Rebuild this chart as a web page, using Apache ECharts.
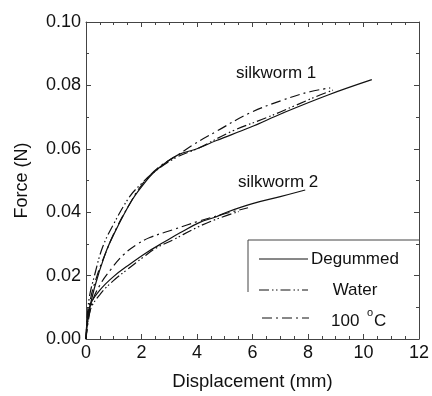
<!DOCTYPE html>
<html>
<head>
<meta charset="utf-8">
<script src="https://cdn.jsdelivr.net/npm/echarts@6/dist/echarts.min.js"></script>
<style>
  html, body { margin: 0; padding: 0; background: #fff; }
  #chart { width: 432px; height: 396px; }
</style>
</head>
<body>
<div id="chart"></div>
<script>
// silkworm 1
var degummed1X = [0, 0.1, 0.3, 0.7, 1.0, 1.6, 2.0, 2.5, 3.3, 4.0, 4.7, 5.9, 7.1, 8.7, 10.3];
var degummed1Y = [0, 0.008, 0.016, 0.027, 0.033, 0.043, 0.048, 0.053, 0.058, 0.060, 0.0626, 0.0667, 0.0713, 0.0769, 0.0818];
var water1X = [0, 0.1, 0.32, 0.6, 0.98, 1.58, 2.0, 2.5, 3.3, 4.0, 5.3, 6.5, 7.5, 8.3, 8.9];
var water1Y = [0, 0.012, 0.0205, 0.029, 0.036, 0.045, 0.049, 0.053, 0.0575, 0.060, 0.0657, 0.0698, 0.0735, 0.0765, 0.0785];
var hot1X = [0, 0.15, 0.4, 0.7, 1.1, 1.6, 2.0, 2.6, 3.3, 3.9, 4.7, 5.9, 7.1, 8.07, 8.8];
var hot1Y = [0, 0.012, 0.020, 0.027, 0.035, 0.043, 0.0485, 0.054, 0.058, 0.0615, 0.0655, 0.0713, 0.0754, 0.078, 0.0792];

// silkworm 2
var degummed2X = [0, 0.14, 0.5, 0.98, 1.58, 2.19, 2.8, 3.39, 4.1, 4.68, 5.07, 6.0, 7.0, 7.9];
var degummed2Y = [0, 0.0104, 0.0154, 0.0196, 0.0236, 0.0273, 0.0305, 0.0335, 0.0368, 0.0385, 0.040, 0.0427, 0.0449, 0.047];
var water2X = [0, 0.15, 0.5, 1.0, 1.5, 2.06, 2.55, 3.14, 4.0, 4.7, 5.5];
var water2Y = [0, 0.009, 0.014, 0.0185, 0.022, 0.0258, 0.0288, 0.0313, 0.0352, 0.0378, 0.0402];
var hot2X = [0, 0.2, 0.5, 0.9, 1.34, 1.83, 2.3, 3.14, 4.0, 5.0, 5.84];
var hot2Y = [0, 0.011, 0.017, 0.022, 0.0265, 0.0298, 0.032, 0.0345, 0.037, 0.0395, 0.0414];

var xTicks = [0, 2, 4, 6, 8, 10, 12];
var yTicks = [0, 0.02, 0.04, 0.06, 0.08, 0.10];

function pairs(xs, ys) {
  return xs.map(function (x, i) { return [x, ys[i]]; });
}

var font = 'Liberation Sans, Arial, sans-serif';
var ink = '#111';
var axisColor = '#444';

var waterDash = [10, 3, 1.5, 2.5, 1.5, 3];
var hotDash = [10, 4, 2, 4];

function lineSeries(name, data, dash) {
  return {
    name: name,
    type: 'line',
    data: data,
    showSymbol: false,
    smooth: 0.4,
    silent: true,
    lineStyle: { color: ink, width: 1.2, type: dash }
  };
}

function valueAxis(opt) {
  var base = {
    type: 'value',
    axisLine: { show: true, onZero: false, lineStyle: { color: axisColor, width: 1 } },
    axisTick: { show: true, inside: true, length: 5, lineStyle: { color: axisColor } },
    minorTick: { show: true, splitNumber: 2, length: 3, lineStyle: { color: axisColor } },
    splitLine: { show: false },
    axisLabel: { color: ink, fontFamily: font, fontSize: 18 }
  };
  for (var k in opt) base[k] = opt[k];
  return base;
}

var xMinor = { show: true, splitNumber: 4, length: 3, lineStyle: { color: axisColor } };

var chart = echarts.init(document.getElementById('chart'));
chart.setOption({
  animation: false,
  grid: { left: 86, right: 13, top: 22, bottom: 49 },
  xAxis: [
    valueAxis({
      min: xTicks[0], max: xTicks[xTicks.length - 1], interval: 2,
      minorTick: xMinor,
      name: 'Displacement (mm)', nameLocation: 'middle', nameGap: 33,
      nameTextStyle: { color: ink, fontFamily: font, fontSize: 18.5 },
      axisLabel: { color: ink, fontFamily: font, fontSize: 18, margin: 5 }
    }),
    valueAxis({
      position: 'top', min: xTicks[0], max: xTicks[xTicks.length - 1], interval: 2,
      minorTick: xMinor,
      axisLabel: { show: false }
    })
  ],
  yAxis: [
    valueAxis({
      min: yTicks[0], max: yTicks[yTicks.length - 1], interval: 0.02,
      name: 'Force (N)', nameLocation: 'middle', nameGap: 55,
      nameTextStyle: { color: ink, fontFamily: font, fontSize: 18 },
      axisLabel: {
        color: ink, fontFamily: font, fontSize: 18, margin: 5,
        formatter: function (v) { return v.toFixed(2); }
      }
    }),
    valueAxis({
      position: 'right', min: yTicks[0], max: yTicks[yTicks.length - 1], interval: 0.02,
      axisLabel: { show: false }
    })
  ],
  series: [
    lineSeries('Degummed', pairs(degummed1X, degummed1Y), 'solid'),
    lineSeries('Water', pairs(water1X, water1Y), waterDash),
    lineSeries('100 °C', pairs(hot1X, hot1Y), hotDash),
    lineSeries('Degummed', pairs(degummed2X, degummed2Y), 'solid'),
    lineSeries('Water', pairs(water2X, water2Y), waterDash),
    lineSeries('100 °C', pairs(hot2X, hot2Y), hotDash)
  ],
  graphic: [
    { type: 'text', left: 236, top: 65, style: { text: 'silkworm 1', fill: ink, font: '17px ' + font } },
    { type: 'text', left: 238, top: 174, style: { text: 'silkworm 2', fill: ink, font: '17px ' + font } },
    // legend frame
    { type: 'polyline', shape: { points: [[248, 292], [248, 240], [419, 240]] }, style: { stroke: axisColor, lineWidth: 1, fill: null } },
    { type: 'line', shape: { x1: 259, y1: 259, x2: 308, y2: 259 }, style: { stroke: ink, lineWidth: 1 } },
    { type: 'line', shape: { x1: 259, y1: 290, x2: 308, y2: 290 }, style: { stroke: ink, lineWidth: 1, lineDash: waterDash } },
    { type: 'line', shape: { x1: 262, y1: 318, x2: 309, y2: 318 }, style: { stroke: ink, lineWidth: 1, lineDash: hotDash } },
    { type: 'text', x: 355, y: 259, style: { text: 'Degummed', fill: ink, font: '17px ' + font, align: 'center', verticalAlign: 'middle' } },
    { type: 'text', x: 355, y: 290, style: { text: 'Water', fill: ink, font: '17px ' + font, align: 'center', verticalAlign: 'middle' } },
    { type: 'text', x: 331, y: 321, style: { text: '100', fill: ink, font: '17px ' + font, verticalAlign: 'middle' } },
    { type: 'text', x: 367, y: 313, style: { text: 'o', fill: ink, font: '11px ' + font, verticalAlign: 'middle' } },
    { type: 'text', x: 374, y: 321, style: { text: 'C', fill: ink, font: '17px ' + font, verticalAlign: 'middle' } }
  ]
});
</script>
</body>
</html>
